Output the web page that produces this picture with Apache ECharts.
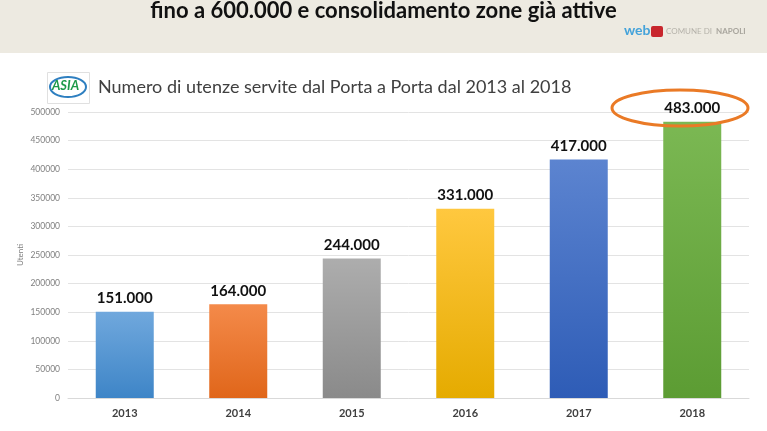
<!DOCTYPE html>
<html>
<head>
<meta charset="utf-8">
<script src="https://cdn.jsdelivr.net/npm/echarts@6/dist/echarts.min.js"></script>
<style>
  html, body { margin: 0; padding: 0; background: #fff; }
  #chart { width: 767px; height: 431px; }
</style>
</head>
<body>
<div id="chart"></div>
<script>
// dati
const years = ['2013', '2014', '2015', '2016', '2017', '2018']
const utenti = [151000, 164000, 244000, 331000, 417000, 483000]
const yTicks = [0, 50000, 100000, 150000, 200000, 250000, 300000, 350000, 400000, 450000, 500000]

const topColors = ['#70A8DD', '#F48A4A', '#ADADAD', '#FFC83F', '#5C84D0', '#7BB853']
const bottomColors = ['#3E85C7', '#E0661A', '#8A8A8A', '#E5AB00', '#2E5CB6', '#5C9C33']

const font = 'Lato, "Open Sans", sans-serif'

function fmt (v) {
  return String(v).replace(/\B(?=(\d{3})+(?!\d))/g, '.')
}

const myChart = echarts.init(document.getElementById('chart'))

const option = {
  animation: false,
  textStyle: { fontFamily: font },
  grid: { left: 68, right: 18, top: 112, bottom: 33 },
  xAxis: {
    type: 'category',
    data: years,
    axisTick: { show: false },
    axisLine: { lineStyle: { color: '#D9D9D9' } },
    axisLabel: { color: '#404040', fontWeight: 'bold', fontSize: 11, margin: 10 }
  },
  yAxis: {
    type: 'value',
    min: yTicks[0],
    max: yTicks[yTicks.length - 1],
    interval: yTicks[1] - yTicks[0],
    name: 'Utenti',
    nameLocation: 'middle',
    nameGap: 44,
    nameMoveOverlap: false,
    nameTextStyle: { color: '#808080', fontSize: 8 },
    axisLine: { show: false },
    axisTick: { show: false },
    splitLine: { lineStyle: { color: '#E3E3E3' } },
    axisLabel: { color: '#808080', fontSize: 8.5, margin: 8, formatter: function (v) { return String(v) } }
  },
  series: [
    {
      type: 'bar',
      barWidth: 58,
      data: utenti.map(function (v, i) {
        return {
          value: v,
          itemStyle: {
            color: new echarts.graphic.LinearGradient(0, 0, 0, 1, [
              { offset: 0, color: topColors[i] },
              { offset: 1, color: bottomColors[i] }
            ])
          }
        }
      }),
      label: {
        show: true,
        position: 'top',
        distance: 6,
        color: '#111',
        fontWeight: 'bold',
        fontSize: 15,
        formatter: function (p) { return fmt(p.value) }
      }
    }
  ],
  graphic: [
    // fascia intestazione
    { type: 'rect', left: 0, top: 0, shape: { width: 767, height: 53 }, style: { fill: '#EDEAE1' }, z: -1 },
    {
      type: 'text', left: 'center', top: 0,
      style: { text: 'fino a 600.000 e consolidamento zone già attive', font: 'bold 22px ' + font, fill: '#111' }
    },
    { type: 'text', left: 624, top: 23, style: { text: 'web', font: 'bold 14px ' + font, fill: '#45A3DA' } },
    { type: 'rect', left: 651, top: 26, shape: { width: 12, height: 11, r: 2 }, style: { fill: '#C8262D' } },
    { type: 'text', left: 666, top: 27, style: { text: 'COMUNE DI', font: '8px ' + font, fill: '#B5B2AA' } },
    { type: 'text', left: 716, top: 27, style: { text: 'NAPOLI', font: 'bold 8px ' + font, fill: '#A8A59D' } },
    // logo ASIA
    { type: 'rect', left: 47, top: 72, shape: { width: 42, height: 31 }, style: { fill: '#fff', stroke: '#E0E0E0', lineWidth: 1 } },
    { type: 'ellipse', shape: { cx: 68, cy: 87, rx: 18, ry: 10 }, style: { fill: 'none', stroke: '#2E7FC0', lineWidth: 2 } },
    { type: 'text', left: 52, top: 79, style: { text: 'ASIA', font: 'italic bold 13px ' + font, fill: '#1E9A4A' } },
    // titolo grafico
    {
      type: 'text', left: 98, top: 78,
      style: { text: 'Numero di utenze servite dal Porta a Porta dal 2013 al 2018', font: '18px ' + font, fill: '#404040' }
    },
    // ellisse evidenziazione 2018
    { type: 'ellipse', shape: { cx: 680, cy: 108, rx: 68, ry: 18 }, style: { fill: 'none', stroke: '#EA7A26', lineWidth: 3 }, z: 10 }
  ]
}

myChart.setOption(option)
</script>
</body>
</html>
